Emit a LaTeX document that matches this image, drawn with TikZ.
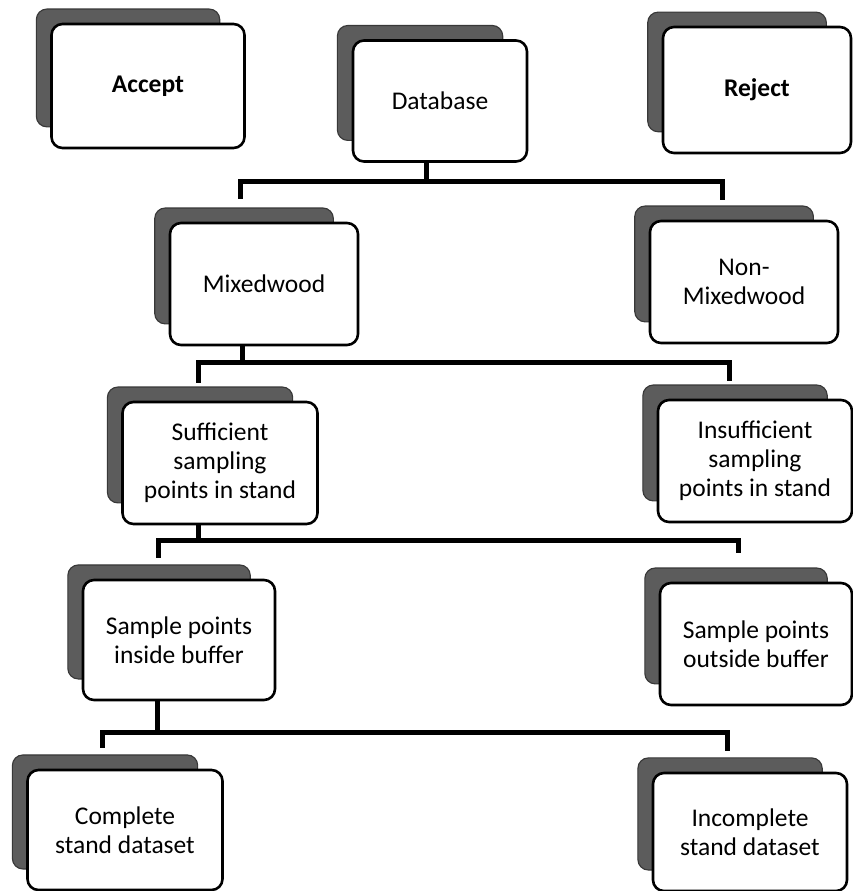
\documentclass[tikz,border=0pt]{standalone}
\usepackage{fontspec}
\setmainfont{Carlito}
\usepackage{tikz}
\usetikzlibrary{shadows}

\begin{document}
\begin{tikzpicture}[
    x=1pt, y=-1pt,
    box/.style={rectangle, rounded corners=11pt, draw, line width=2.6pt, fill=white,
        minimum width=192pt, minimum height=122pt, inner sep=2pt, align=center,
        font=\fontsize{25.5}{29}\selectfont,
        general shadow={shadow xshift=-21pt, shadow yshift=19pt, shadow scale=0.95,
            fill=black!64, draw=black!78, line width=1.2pt}},
    link/.style={line width=5pt, line join=miter, line cap=rect}
]
\useasboundingbox (0,0) rectangle (852,891);

% nodes
\node[box, font=\fontsize{25.5}{29}\selectfont\bfseries, minimum width=193pt, minimum height=124pt] (accept) at (148,86) {Accept};
\node[box, minimum width=174pt, minimum height=121pt] (db) at (440,101) {Database};
\node[box, font=\fontsize{25.5}{29}\selectfont\bfseries, minimum width=188pt, minimum height=126pt] (reject) at (757,90) {Reject};
\node[box, minimum width=188pt] (mw) at (264,284) {Mixedwood};
\node[box, minimum width=188pt] (nonmw) at (744,282) {Non-\\Mixedwood};
\node[box, minimum width=195pt] (suff) at (220,463) {Sufficient\\sampling\\points in stand};
\node[box, minimum width=194pt] (insuff) at (755,461) {Insufficient\\sampling\\points in stand};
\node[box, minimum height=120pt] (inbuf) at (179,640) {Sample points\\inside buffer};
\node[box] (outbuf) at (756,644) {Sample points\\outside buffer};
\node[box, minimum width=195pt, minimum height=120pt] (complete) at (125,830) {Complete\\stand dataset};
\node[box, minimum width=194pt, minimum height=118pt] (incomplete) at (750,832) {Incomplete\\stand dataset};

% junctions and free ends
\coordinate (j1) at (426,181);
\coordinate (mwin) at (240,196);
\coordinate (nonmwin) at (722,197);
\coordinate (j2) at (242,362);
\coordinate (suffin) at (198,380);
\coordinate (insuffin) at (729,378);
\coordinate (j3) at (198,540);
\coordinate (inbufin) at (158,555);
\coordinate (outbufin) at (738,550);
\coordinate (j4) at (157,732);
\coordinate (completein) at (102,745);
\coordinate (incompletein) at (727,748);

% connectors
\draw[link] (db.south -| j1) -- (j1);
\draw[link] (mwin) |- (j1) -| (nonmwin);
\draw[link] (mw.south -| j2) -- (j2);
\draw[link] (suffin) |- (j2) -| (insuffin);
\draw[link] (suff.south -| j3) -- (j3);
\draw[link] (inbufin) |- (j3) -| (outbufin);
\draw[link] (inbuf.south -| j4) -- (j4);
\draw[link] (completein) |- (j4) -| (incompletein);

\end{tikzpicture}
\end{document}
